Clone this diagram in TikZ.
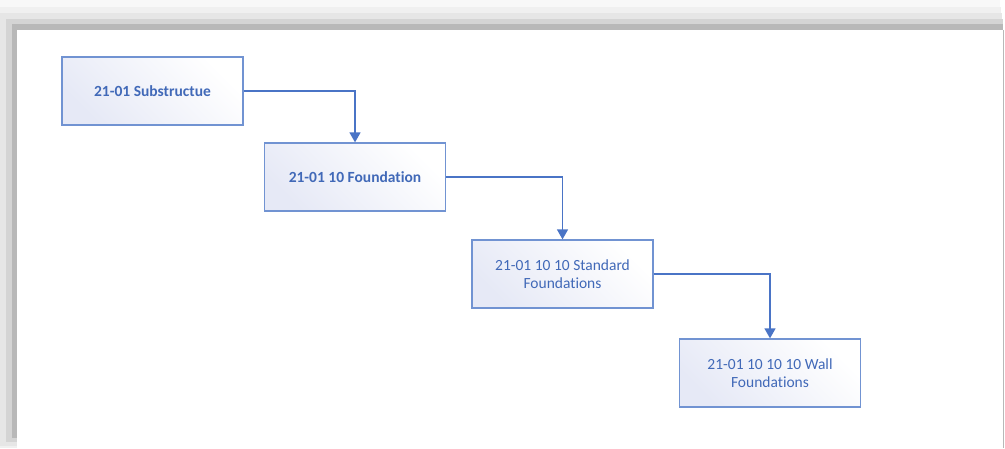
\documentclass[tikz,border=0pt]{standalone}
\usepackage{fontspec}
\setmainfont[Ligatures=NoCommon]{Carlito}
\usetikzlibrary{arrows.meta,positioning}
\definecolor{boxline}{HTML}{7193D2}
\definecolor{boxtext}{HTML}{4169B8}
\definecolor{arrowc}{HTML}{4A74C6}
\definecolor{lav}{HTML}{E6E9F6}
\definecolor{sA}{HTML}{F8F8F8}
\definecolor{sB}{HTML}{F0F0F0}
\definecolor{sC}{HTML}{E6E6E6}
\definecolor{sD}{HTML}{D4D4D4}
\definecolor{sE}{HTML}{B8B8B8}
\tikzset{
  stepbox/.style={draw=boxline, line width=1.3pt, minimum width=181pt, minimum height=68pt,
    inner sep=2pt, align=center, text=boxtext, font=\fontsize{15.5}{18}\selectfont,
    left color=lav, right color=white, shading angle=135},
  boldbox/.style={stepbox, font=\bfseries\fontsize{15.5}{18}\selectfont},
  conn/.style={draw=arrowc, line width=1.4pt, -{Triangle[length=10pt,width=11pt]}}
}
\begin{document}
\begin{tikzpicture}[x=1pt,y=-1pt]
\useasboundingbox (0,0) rectangle (1005,448);
\fill[white] (0,0) rectangle (1005,448);
% shadow frame (stepped greys)
\fill[sA] (0,0) rectangle (1000,448);
\fill[sB] (0,7) rectangle (1001,448);
\fill[sC] (0,13) rectangle (1002,446);
\fill[sD] (6,19) rectangle (1003,442);
\fill[sE] (12,24) rectangle (1003,438);
\fill[white] (17,30) rectangle (1003,448);
\fill[white] (1003,0) rectangle (1005,448);
\draw[sE, line width=1pt] (1003.5,30) -- (1003.5,448);
% nodes
\node[boldbox] (a) at (152.5,91) {21-01 Substructue};
\node[boldbox] (b) at (355,177) {21-01 10 Foundation};
\node[stepbox] (c) at (562.5,274) {21-01 10 10 Standard\\Foundations};
\node[stepbox] (d) at (770,373) {21-01 10 10 10 Wall\\Foundations};
% connectors
\draw[conn] (a.east) -| (b.north);
\draw[conn] (b.east) -| (c.north);
\draw[conn] (c.east) -| (d.north);
\end{tikzpicture}
\end{document}
